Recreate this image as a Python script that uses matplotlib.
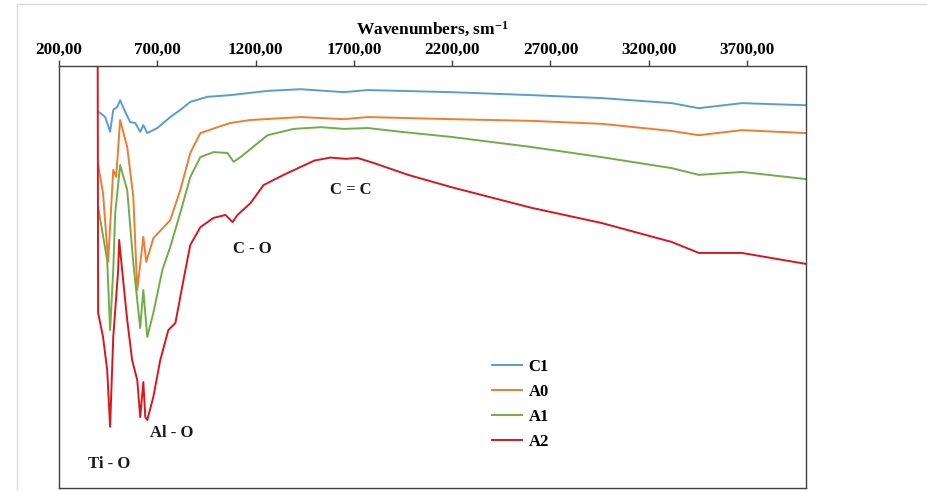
import matplotlib
matplotlib.use("Agg")
import matplotlib.pyplot as plt
from matplotlib.patches import Rectangle

plt.rcParams['font.family'] = ['Liberation Serif', 'DejaVu Serif']
plt.rcParams['font.weight'] = 'bold'
plt.rcParams['mathtext.fontset'] = 'custom'
plt.rcParams['mathtext.rm'] = 'Liberation Serif:bold'
plt.rcParams['mathtext.it'] = 'Liberation Serif:bold'
plt.rcParams['mathtext.bf'] = 'Liberation Serif:bold'

# ---- data (wavenumber, transmittance a.u.) ----
c1_x = [399, 409, 435, 460, 476, 496, 511, 537, 562, 588, 613, 629, 649, 700, 766, 817, 868, 955,
        1072, 1261, 1430, 1649, 1771, 2195, 2603, 2960, 3317, 3455, 3674, 4000]
c1_y = [89.1, 88.9, 87.9, 84.4, 89.6, 90.3, 91.9, 89.1, 86.7, 86.5, 84.4, 86.0, 84.1, 85.3, 87.9, 89.6, 91.5, 92.7,
        93.1, 94.1, 94.5, 93.8, 94.3, 93.8, 93.1, 92.4, 91.2, 90.0, 91.2, 90.7]

a0_x = [399, 424, 450, 476, 491, 511, 547, 578, 598, 629, 644, 680, 766, 817, 868, 919, 1006,
        1072, 1174, 1430, 1649, 1771, 2195, 2603, 2960, 3317, 3455, 3674, 4000]
a0_y = [76.5, 69.9, 53.6, 75.4, 73.7, 87.2, 80.8, 69.0, 46.9, 59.5, 53.6, 59.2, 63.5, 70.6, 79.4, 84.1, 85.5,
        86.5, 87.2, 87.9, 87.4, 87.9, 87.4, 87.0, 86.3, 84.6, 83.6, 84.8, 84.1]

a1_x = [399, 445, 460, 476, 486, 511, 547, 578, 613, 629, 649, 680, 726, 766, 817, 868, 919, 986,
        1057, 1088, 1123, 1261, 1394, 1532, 1649, 1771, 1940, 2195, 2603, 2960, 3317, 3455, 3674, 4000]
a1_y = [66.6, 54.0, 37.4, 51.7, 65.2, 76.5, 70.6, 53.3, 37.9, 46.9, 35.8, 41.5, 51.7, 57.1, 65.2, 73.7, 78.4, 79.6,
        79.4, 77.3, 78.4, 83.6, 85.1, 85.5, 85.1, 85.3, 84.4, 83.2, 80.8, 78.4, 75.8, 74.2, 74.9, 73.2]

a2_x = [396, 399, 424, 445, 460, 476, 501, 506, 521, 547, 572, 598, 613, 629, 639, 649, 680, 715,
        756, 792, 843, 868, 919, 986, 1047, 1083, 1108, 1174, 1241, 1343, 1430, 1500, 1580, 1660, 1720,
        1802, 1976, 2195, 2603, 2960, 3317, 3455, 3674, 4000]
a2_y = [120.0, 41.5, 35.8, 28.0, 14.5, 35.8, 51.7, 58.8, 51.7, 39.8, 30.3, 25.6, 16.8, 25.1, 16.8, 16.1, 21.6, 30.3,
        37.4, 39.1, 51.7, 57.6, 61.8, 64.0, 64.7, 63.0, 64.7, 67.5, 71.8, 74.2, 76.1, 77.6, 78.3, 78.0, 78.2,
        77.0, 74.2, 71.3, 66.4, 62.8, 58.3, 55.7, 55.7, 53.1]

series_names = ['C1', 'A0', 'A1', 'A2']
series_colors = ['#5B9BD5', '#ED7D31', '#70AD47', '#D8161E']

x_ticks = [200, 700, 1200, 1700, 2200, 2700, 3200, 3700]
x_tick_labels = ['200,00', '700,00', '1200,00', '1700,00', '2200,00', '2700,00', '3200,00', '3700,00']

annotations = [('Ti - O', 455, 5.6), ('Al - O', 772, 13.0), ('C - O', 1185, 56.6), ('C = C', 1685, 70.6)]

# ---- figure ----
fig = plt.figure(figsize=(9.28, 4.91), dpi=100)
fig.patches.append(Rectangle((17 / 928, -0.01), 1.0, (491 - 4) / 491 + 0.01,
                             transform=fig.transFigure, fill=False,
                             edgecolor='#d9d9d9', linewidth=1.0))
ax = fig.add_axes([59 / 928, 3 / 491, (806 - 59) / 928, (488 - 66) / 491])

for xs, ys, name, col in zip([c1_x, a0_x, a1_x, a2_x], [c1_y, a0_y, a1_y, a2_y],
                             series_names, series_colors):
    ax.plot(xs, ys, color=col, linewidth=1.4, label=name)

ax.set_xlim(200, 4000)
ax.set_ylim(0, 100)
ax.xaxis.tick_top()
ax.xaxis.set_label_position('top')
ax.set_xticks(x_ticks)
ax.set_xticklabels(x_tick_labels, fontsize=12.3, fontweight='bold')
ax.tick_params(axis='x', direction='out', length=4, width=1, color='#404040', pad=2)
ax.set_yticks([])
ax.set_xlabel(r'Wavenumbers, sm$^{-1}$', fontsize=12.5, fontweight='bold', labelpad=5)
for s in ax.spines.values():
    s.set_color('#404040')
    s.set_linewidth(1.0)

for txt, xv, yv in annotations:
    ax.text(xv, yv, txt, fontsize=12, fontweight='bold', ha='center', va='center', color='#1a1a1a')

leg = ax.legend(loc='center left', bbox_to_anchor=(492 / 928, (491 - 404.5) / 491),
                bbox_transform=fig.transFigure, frameon=False,
                handlelength=1.8, handletextpad=0.4, labelspacing=0.55,
                borderpad=0, borderaxespad=0, prop={'weight': 'bold', 'size': 12})

fig.savefig('out.png', dpi=100)
